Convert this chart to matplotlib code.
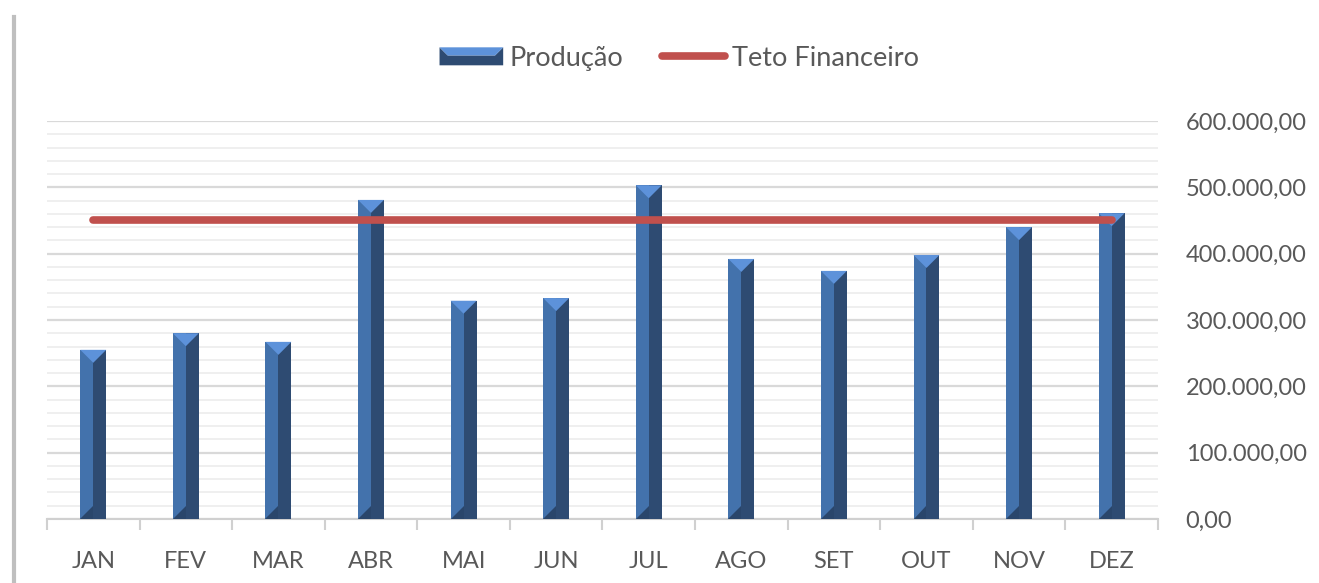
import matplotlib
matplotlib.use("Agg")
import matplotlib.pyplot as plt
from matplotlib.patches import Polygon, Rectangle
from matplotlib.legend_handler import HandlerBase
from matplotlib.lines import Line2D
from matplotlib.ticker import FuncFormatter, MultipleLocator

meses = ["JAN", "FEV", "MAR", "ABR", "MAI", "JUN", "JUL", "AGO", "SET", "OUT", "NOV", "DEZ"]
producao = [255000, 280000, 267000, 481000, 329000, 333000, 503000, 392000, 374000, 398000, 440000, 461000]
teto = [450000] * 12

LIGHT = "#4372ac"
DARK = "#2e4b72"
TOPC = "#5d92da"
GRAY = "#595959"

plt.rcParams["font.family"] = ["Lato", "DejaVu Sans"]

fig = plt.figure(figsize=(13.19, 5.83), dpi=100)
ax = fig.add_axes([0.0356, 0.1098, 0.8423, 0.6827])

x = list(range(len(meses)))
w = 0.28
ax.set_xlim(-0.5, len(meses) - 0.5)
ax.set_ylim(0, 600000)

# pixel scale, used to make the bevel square-ish
p0 = ax.transData.transform((0, 0))
p1 = ax.transData.transform((1, 1))
px_x = p1[0] - p0[0]
px_y = p1[1] - p0[1]

for xi, v in zip(x, producao):
    l, r, c = xi - w / 2, xi + w / 2, xi
    bev = (w / 2) * px_x / px_y  # half width in y units
    ax.add_patch(Rectangle((l, 0), w / 2, v, facecolor=LIGHT, edgecolor="none", zorder=3))
    ax.add_patch(Rectangle((c, 0), w / 2, v, facecolor=DARK, edgecolor="none", zorder=3))
    ax.add_patch(Polygon([(l, v), (r, v), (c, v - bev)], closed=True,
                         facecolor=TOPC, edgecolor="none", zorder=4))
    ax.add_patch(Polygon([(l, 0), (c, 0), (c, bev)], closed=True,
                         facecolor="#2a466b", edgecolor="none", zorder=4))

ax.plot(x, teto, color="#c0504d", lw=5.5, solid_capstyle="round", zorder=5)

# grid
ax.yaxis.set_major_locator(MultipleLocator(100000))
ax.yaxis.set_minor_locator(MultipleLocator(20000))
ax.grid(which="major", axis="y", color="#d9d9d9", lw=1.6, zorder=0)
ax.grid(which="minor", axis="y", color="#ececec", lw=1.2, zorder=0)
ax.set_axisbelow(True)

for s in ["top", "left", "right"]:
    ax.spines[s].set_visible(False)
ax.spines["bottom"].set_color("#d0d0d0")
ax.spines["bottom"].set_linewidth(1.5)

ax.yaxis.tick_right()
ax.tick_params(axis="y", which="both", length=0, pad=20, labelsize=17, labelcolor=GRAY)
ax.yaxis.set_major_formatter(FuncFormatter(
    lambda v, p: "{:,.2f}".format(v).replace(",", "X").replace(".", ",").replace("X", ".")))

ax.set_xticks(x)
ax.set_xticklabels(meses)
ax.set_xticks([i - 0.5 for i in range(len(meses) + 1)], minor=True)
ax.tick_params(axis="x", which="major", length=0, pad=23, labelsize=17, labelcolor=GRAY)
ax.tick_params(axis="x", which="minor", length=8, width=1.5, color="#d0d0d0")


class BevelHandler(HandlerBase):
    def create_artists(self, legend, orig, xd, yd, width, height, fontsize, trans):
        h = height * 0.95
        y0 = yd + (height - h) / 2
        b = h * 0.45
        top = Polygon([(xd, y0 + h), (xd + width, y0 + h), (xd + width - b, y0 + h - b), (xd + b, y0 + h - b)],
                      closed=True, facecolor=TOPC, edgecolor="none", transform=trans)
        bot = Polygon([(xd, y0), (xd + width, y0), (xd + width, y0 + h), (xd + width - b, y0 + h - b),
                       (xd + b, y0 + h - b), (xd, y0 + h)],
                      closed=True, facecolor=DARK, edgecolor="none", transform=trans)
        return [bot, top]


bar_handle = Rectangle((0, 0), 1, 1)
line_handle = Line2D([], [], color="#c0504d", lw=5.5, solid_capstyle="round")
fig.legend([bar_handle, line_handle], ["Produção", "Teto Financeiro"],
           handler_map={Rectangle: BevelHandler()},
           loc="center", bbox_to_anchor=(0.515, 0.9), ncol=2, frameon=False,
           fontsize=19.5, labelcolor=GRAY, handlelength=2.35, handletextpad=0.25,
           columnspacing=1.4)

# page border at left
fig.add_artist(Line2D([0.0105, 0.0105], [0, 0.97], color="#bfbfbf", lw=3, transform=fig.transFigure))

fig.savefig("out.png", dpi=100)
